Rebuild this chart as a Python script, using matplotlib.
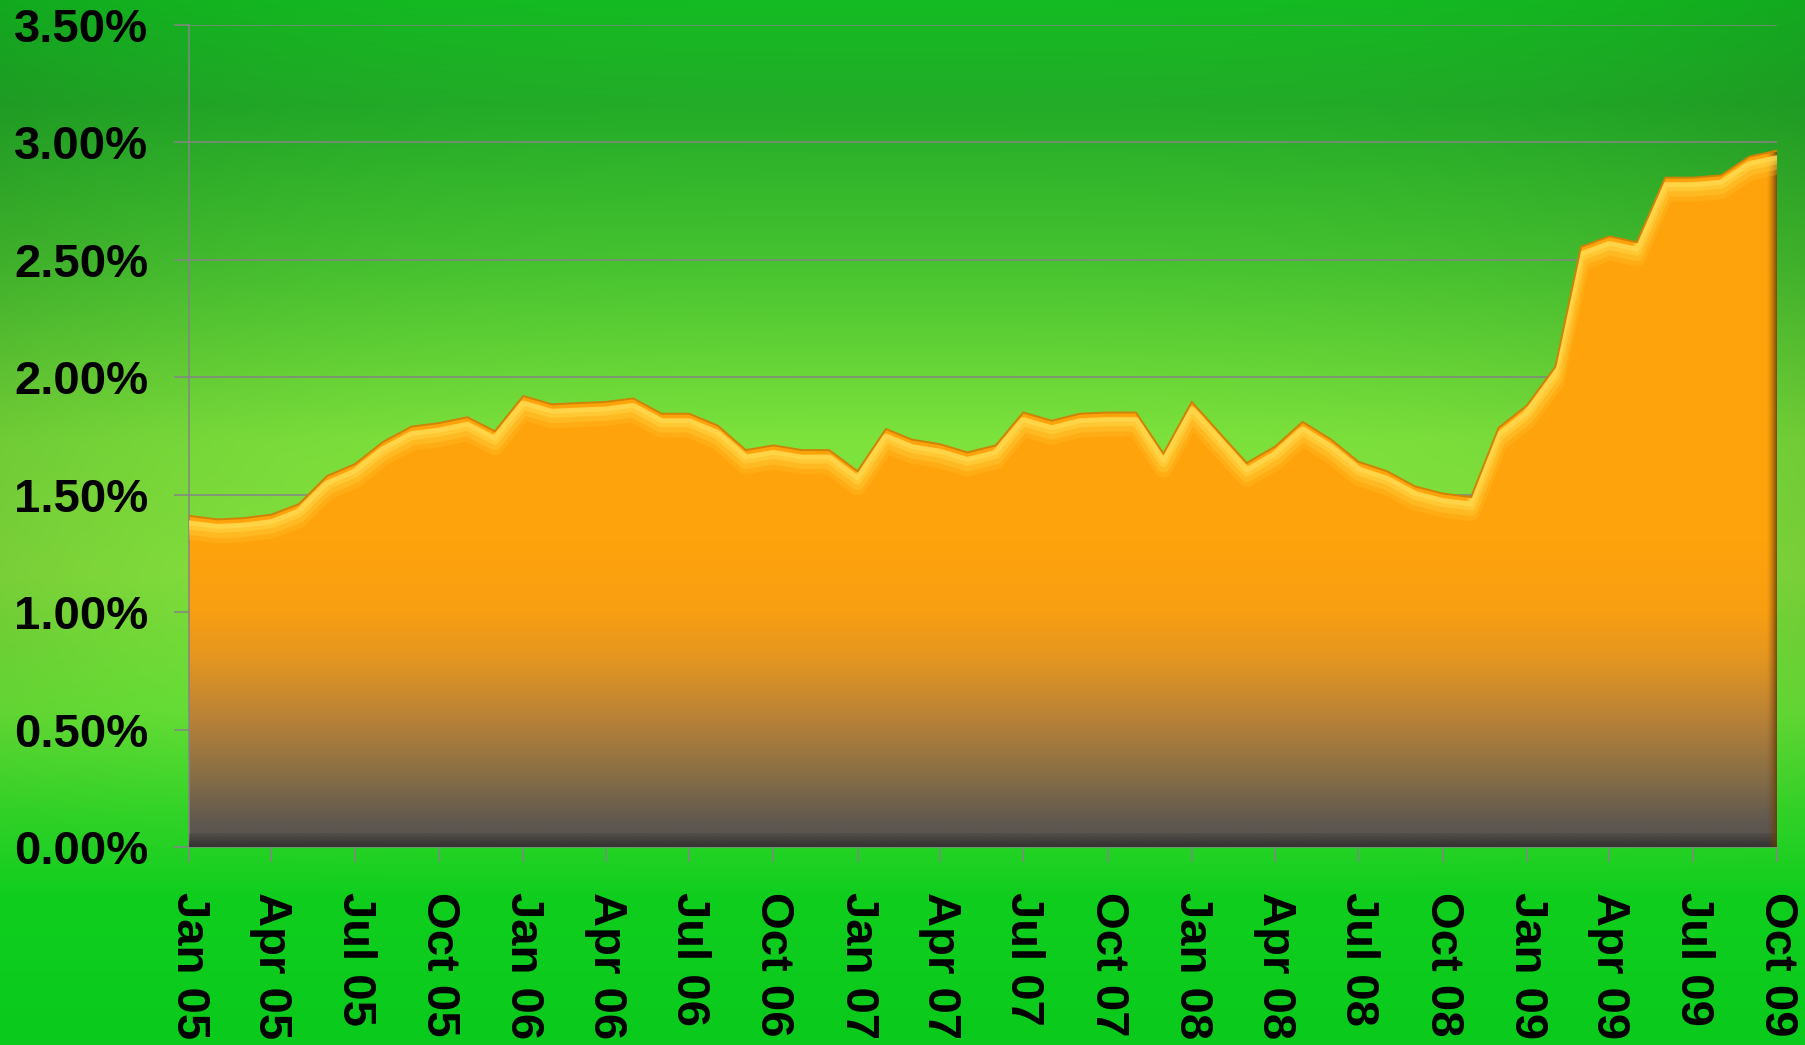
import matplotlib
matplotlib.use('Agg')
import matplotlib.pyplot as plt
import matplotlib.dates as mdates
from matplotlib import ticker, transforms
import numpy as np
import pandas as pd

# monthly rate, percent
months = pd.date_range('2005-01-01', '2009-10-01', freq='MS')
rate = [1.41, 1.395, 1.40, 1.415, 1.46, 1.58, 1.63, 1.725, 1.79, 1.805,
        1.83, 1.77, 1.92, 1.885, 1.89, 1.895, 1.91, 1.845, 1.845, 1.795,
        1.69, 1.71, 1.69, 1.69, 1.60, 1.78, 1.735, 1.715, 1.68, 1.71,
        1.85, 1.815, 1.845, 1.85, 1.85, 1.675, 1.895, 1.76, 1.635, 1.705,
        1.81, 1.735, 1.64, 1.60, 1.535, 1.505, 1.49, 1.785, 1.88, 2.045,
        2.555, 2.60, 2.575, 2.85, 2.85, 2.86, 2.94, 2.965]
y_max = 3.5

W, H = 1806, 1045
fig = plt.figure(figsize=(W / 100, H / 100), dpi=100)

# green backdrop
bg = fig.add_axes([0, 0, 1, 1], zorder=0)
yy = np.linspace(0, 1, H)[:, None] * np.ones((1, W))
xx = np.ones((H, 1)) * np.linspace(0, 1, W)[None, :]
stops = [0, .10, .25, .42, .55, .68, .78, .86, 1]
r = [20, 35, 70, 125, 135, 105, 50, 15, 10]
g = [188, 172, 195, 226, 230, 228, 214, 206, 202]
b = [34, 40, 48, 60, 62, 55, 40, 30, 28]
img = np.dstack([np.interp(yy, stops, c) for c in (r, g, b)]) / 255
fade = np.clip((0.85 - yy) / 0.25, 0, 1)
shade = 1 - 0.10 * np.abs(2 * xx - 1) ** 3 * fade
img = np.clip(img * shade[:, :, None], 0, 1)
bg.imshow(img, aspect='auto', extent=[0, 1, 0, 1], interpolation='bilinear')
bg.set_xlim(0, 1)
bg.set_ylim(0, 1)
bg.axis('off')

x0, x1, top, bottom = 189, 1777, 25, 847
ax = fig.add_axes([x0 / W, (H - bottom) / H, (x1 - x0) / W, (bottom - top) / H], zorder=1)
ax.patch.set_alpha(0)

xn = mdates.date2num(months)
xa, xb = xn[0], xn[-1]

area = ax.fill_between(months, rate, 0, facecolor='none', edgecolor='none', zorder=3)
clip = (area.get_paths()[0], ax.transData)

# orange to grey fill
gv = np.linspace(0, y_max, 400)
gs = [0, .10, .30, .55, .80, 1.0, 1.3, y_max]
gr = [86, 95, 135, 185, 228, 248, 255, 255]
gg = [83, 88, 110, 130, 150, 158, 163, 163]
gb = [80, 80, 70, 55, 32, 18, 12, 12]
grad = np.dstack([np.interp(gv, gs, c) for c in (gr, gg, gb)]).reshape(-1, 1, 3) / 255
im = ax.imshow(grad, origin='lower', aspect='auto', extent=[xa, xb, 0, y_max],
               zorder=2, interpolation='bilinear')
im.set_clip_path(*clip)

# bevel: dark bottom and right edges
px_y = y_max / (bottom - top)
px_x = (xb - xa) / (x1 - x0)
bot = np.zeros((20, 1, 4))
bot[:, 0, :3] = np.array([50, 48, 46]) / 255
bot[:, 0, 3] = np.linspace(0.95, 0.2, 20)
im = ax.imshow(bot, origin='lower', aspect='auto', extent=[xa, xb, 0, 14 * px_y], zorder=4)
im.set_clip_path(*clip)
rgt = np.zeros((1, 20, 4))
rgt[0, :, :3] = np.array([105, 62, 8]) / 255
rgt[0, :, 3] = np.linspace(0, 0.9, 20) ** 1.5
im = ax.imshow(rgt, origin='lower', aspect='auto', extent=[xb - 11 * px_x, xb, 0, y_max], zorder=4)
im.set_clip_path(*clip)

# soft highlight band under the top edge
for dy, lw, col, a in [(-15, 13, '#ffc830', 0.25), (-12, 10, '#ffd23c', 0.35),
                       (-9, 6.5, '#ffdc4a', 0.45), (-7, 3.5, '#ffe460', 0.45)]:
    tr = transforms.offset_copy(ax.transData, fig=fig, x=0, y=dy, units='dots')
    ln, = ax.plot(months, rate, color=col, lw=lw, alpha=a, transform=tr,
                  solid_joinstyle='round', zorder=5)
    ln.set_clip_path(*clip)
ax.plot(months, rate, color='#d08206', lw=1.4, zorder=6, solid_joinstyle='miter')

ax.set_xlim(xa, xb)
ax.set_ylim(0, y_max)
ax.yaxis.set_major_locator(ticker.MultipleLocator(0.5))
ax.yaxis.set_major_formatter(ticker.FuncFormatter(lambda v, pos: '%.2f%%' % v))
ax.xaxis.set_major_locator(mdates.MonthLocator(bymonth=[1, 4, 7, 10]))
ax.xaxis.set_major_formatter(mdates.DateFormatter('%b %y'))

grey = '#858585'
ax.yaxis.grid(True, color=grey, lw=1.1, zorder=1)
ax.set_axisbelow(True)
for s in ('top', 'right'):
    ax.spines[s].set_visible(False)
for s in ('left', 'bottom'):
    ax.spines[s].set_color(grey)
    ax.spines[s].set_linewidth(1.1)

ax.tick_params(axis='both', direction='out', length=10.5, width=1.1, color=grey)
ax.tick_params(axis='y', pad=19)
ax.tick_params(axis='x', pad=22, labelrotation=-90)
for lab in ax.get_xticklabels() + ax.get_yticklabels():
    lab.set_fontfamily('Liberation Sans')
    lab.set_fontweight('bold')
    lab.set_fontsize(34)
    lab.set_color('black')

fig.savefig('out.png', dpi=100)
